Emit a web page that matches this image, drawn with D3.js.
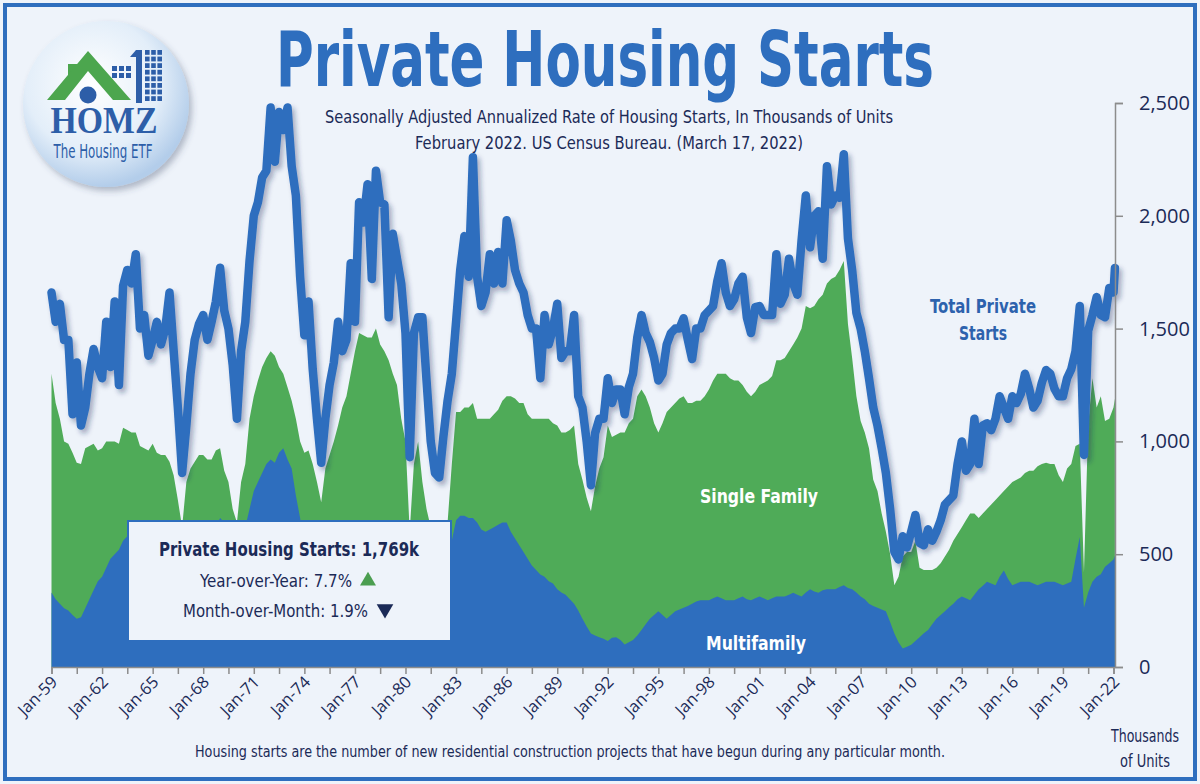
<!DOCTYPE html>
<html>
<head>
<meta charset="utf-8">
<script src="https://cdn.jsdelivr.net/npm/d3@7"></script>
<style>
  body { margin: 0; background: #eef3fa; }
  svg { display: block; }
</style>
</head>
<body>
<div id="chart"></div>
<script>
// Housing starts, thousands of units (SAAR)
// quarterly readings (Jan, Apr, Jul, Oct) from Jan-59, last point is Feb-22
var totalStarts = [
  1660, 1530, 1610, 1450,  1450, 1120, 1350, 1070,  1150, 1300, 1410, 1330,  1280, 1530, 1330, 1620,
  1250, 1690, 1760, 1700,  1830, 1500, 1560, 1380,  1450, 1530, 1430, 1500,  1660, 1400, 1150, 860,
  1070, 1300, 1450, 1520,  1560, 1450, 1530, 1620,  1770, 1580, 1500, 1340,  1100, 1400, 1530, 1800,
  2000, 2060, 2170, 2200,  2480, 2240, 2460, 2380,  2480, 2220, 2090, 1730,  1470, 1620, 1320, 1100,
  905, 1100, 1250, 1350,   1530, 1400, 1450, 1790,  1530, 2060, 1970, 2140,  1720, 2200, 2060, 2050,
  1550, 1920, 1810, 1700,  1480, 930, 1480, 1550,   1550, 1270, 1000, 860,   840, 1020, 1180, 1300,
  1530, 1760, 1910, 1730,  2260, 1730, 1600, 1660,  1830, 1700, 1840, 1700,  1980, 1890, 1760, 1700,
  1660, 1560, 1500, 1500,  1280, 1560, 1430, 1500,  1610, 1370, 1400, 1400,  1560, 1200, 1150, 1000,
  806, 1036, 1100, 1100,   1280, 1170, 1230, 1230,  1120, 1240, 1300, 1460,  1560, 1480, 1440, 1370,
  1270, 1300, 1430, 1480,  1500, 1500, 1546, 1450,  1365, 1500, 1500, 1560,  1580, 1600, 1710, 1790,
  1660, 1600, 1630, 1700,  1730, 1550, 1480, 1595,  1600, 1560, 1560, 1560,  1830, 1610, 1650, 1810,
  1700, 1650, 1890, 2090,  1860, 2000, 2020, 1810,  2220, 2050, 2090, 2080,  2273, 1900, 1760, 1570,
  1500, 1400, 1280, 1150,  1070, 970, 860, 700,     510, 477, 580, 530,      600, 674, 550, 540,
  610, 560, 600, 650,      720, 740, 760, 900,      1000, 870, 900, 1100,   900, 1070, 1080, 1050,
  1100, 1200, 1150, 1100,  1200, 1170, 1210, 1300,  1234, 1150, 1180, 1260,  1316, 1300, 1234, 1200,
  1200, 1280, 1320, 1400,  1600, 940, 1490, 1560,   1640, 1560, 1550, 1680,
  1660, 1769
];

var singleFamily = [
  1300, 1170, 1100, 1000,  990, 950, 905, 900,     970, 980, 990, 960,     970, 1000, 1000, 1000,
  990, 1060, 1050, 1040,   1040, 980, 970, 960,    990, 950, 940, 940,     910, 850, 740, 620,
  820, 880, 910, 940,      940, 920, 920, 960,     970, 870, 820, 700,     640, 820, 900, 1100,
  1200, 1270, 1330, 1370,  1400, 1380, 1330, 1300, 1240, 1180, 1100, 1000, 950, 960, 900, 820,
  730, 880, 940, 1000,     1070, 1150, 1200, 1300, 1400, 1480, 1470, 1460, 1460, 1500, 1430, 1400,
  1360, 1300, 1250, 1100,  1000, 600, 900, 1000,   820, 700, 620, 600,     590, 600, 640, 900,
  1130, 1130, 1150, 1150,  1170, 1100, 1100, 1100, 1100, 1120, 1140, 1180, 1200, 1200, 1190, 1170,
  1170, 1120, 1100, 1100,  1100, 1100, 1100, 1080, 1070, 1040, 1040, 1050, 1070, 900, 830, 750,
  690, 800, 880, 930,      1070, 1020, 1030, 1040, 1040, 1080, 1100, 1200, 1230, 1200, 1150, 1080,
  1040, 1080, 1130, 1150,  1170, 1190, 1200, 1170, 1170, 1180, 1180, 1200, 1230, 1270, 1300, 1300,
  1300, 1280, 1270, 1270,  1250, 1220, 1200, 1220, 1250, 1260, 1270, 1290, 1360, 1360, 1370, 1400,
  1430, 1460, 1500, 1600,  1590, 1600, 1630, 1650, 1700, 1720, 1730, 1760, 1800, 1520, 1370, 1200,
  1090, 1040, 970, 830,    780, 680, 600, 500,     362, 400, 490, 510,     510, 560, 440, 430,
  430, 430, 440, 460,      490, 520, 560, 590,     620, 650, 680, 680,     660, 680, 700, 720,
  740, 760, 780, 800,      820, 830, 840, 860,     870, 870, 890, 900,     905, 900, 900, 850,
  820, 880, 900, 980,      990, 420, 1070, 1280,   1150, 1200, 1090, 1100,
  1150, 1190
];

var multiFamily = [
  330, 300, 280, 260,  250, 230, 214, 220,  260, 300, 340, 380,  400, 440, 480, 500,
  520, 560, 580, 600,  620, 580, 560, 540,  520, 500, 500, 480,  450, 420, 380, 300,
  330, 380, 420, 460,  520, 560, 580, 620,  660, 640, 620, 600,  520, 560, 620, 700,
  780, 820, 860, 900,  920, 905, 950, 970,  920, 880, 760, 660,  520, 480, 400, 300,
  200, 220, 250, 280,  300, 320, 350, 380,  400, 430, 460, 480,  480, 500, 480, 470,
  460, 450, 440, 420,  400, 300, 350, 380,  400, 380, 350, 330,  340, 380, 480, 560,
  650, 670, 670, 660,  660, 640, 610, 600,  610, 620, 630, 640,  640, 600, 570, 540,
  510, 480, 450, 430,  410, 400, 380, 370,  345, 330, 320, 300,  280, 250, 214, 180,
  148, 140, 132, 125,  115, 130, 132, 120,  100, 110, 120, 140,  164, 190, 214, 230,
  247, 230, 214, 230,  247, 255, 263, 270,  280, 290, 296, 296,  296, 305, 312, 305,
  296, 296, 296, 305,  312, 300, 296, 305,  312, 305, 296, 305,  312, 312, 312, 320,
  329, 320, 312, 330,  345, 335, 329, 340,  345, 345, 345, 355,  362, 350, 345, 330,
  312, 300, 280, 270,  263, 255, 247, 200,  148, 110, 82, 90,    99, 115, 132, 150,
  164, 190, 214, 230,  247, 265, 280, 300,  312, 305, 296, 320,  345, 360, 378, 370,
  362, 400, 428, 390,  362, 370, 378, 378,  378, 370, 362, 370,  378, 378, 378, 370,
  362, 370, 378, 480,  576, 263, 330, 378,  400, 411, 444, 460,
  477, 493
];

// months after Jan-59 for each reading
var monthIndex = d3.range(253).map(function(i) { return i * 3; }).concat([757]);

var yTicks = [0, 500, 1000, 1500, 2000, 2500];

var chartTitle = "Private Housing Starts";
var subTitle = [
  "Seasonally Adjusted Annualized Rate of Housing Starts, In Thousands of Units",
  "February 2022. US Census Bureau. (March 17, 2022)"
];
var boxLines = ["Private Housing Starts: 1,769k", "Year-over-Year: 7.7%", "Month-over-Month: 1.9%"];
var footNote = "Housing starts are the number of new residential construction projects that have begun during any particular month.";

// Setup
var width = 1200;
var height = 784;
var blue = "#2e6ebe";
var green = "#4fab58";
var navy = "#1b2a57";
var bg = "#eef3fa";
var cond = "'Liberation Sans Narrow', 'DejaVu Sans Condensed', 'Roboto', sans-serif";
var plain = "'Open Sans', 'Liberation Sans', sans-serif";

var start = new Date(1959, 0, 1);
var dates = monthIndex.map(function(m) { return d3.timeMonth.offset(start, m); });

var rows = dates.map(function(d, i) {
  return { date: d, total: totalStarts[i], sf: singleFamily[i], mf: multiFamily[i] };
});

var svg = d3.select("#chart")
  .append("svg")
  .attr("width", width)
  .attr("height", height);

var defs = svg.append("defs");

var shadow = defs.append("filter").attr("id", "lineShadow")
  .attr("x", "-5%").attr("y", "-5%").attr("width", "110%").attr("height", "115%");
shadow.append("feDropShadow")
  .attr("dx", 3).attr("dy", 4).attr("stdDeviation", 2.5)
  .attr("flood-color", "#1c2f5a").attr("flood-opacity", 0.35);

var logoShadow = defs.append("filter").attr("id", "logoShadow")
  .attr("x", "-20%").attr("y", "-20%").attr("width", "140%").attr("height", "140%");
logoShadow.append("feDropShadow")
  .attr("dx", 3).attr("dy", 4).attr("stdDeviation", 3)
  .attr("flood-color", "#3a4a66").attr("flood-opacity", 0.35);

var grad = defs.append("radialGradient").attr("id", "logoGrad")
  .attr("cx", "42%").attr("cy", "38%").attr("r", "62%");
grad.append("stop").attr("offset", "0%").attr("stop-color", "#ffffff");
grad.append("stop").attr("offset", "65%").attr("stop-color", "#e3eef9");
grad.append("stop").attr("offset", "100%").attr("stop-color", "#b3cdea");

// background and frame
svg.append("rect").attr("width", width).attr("height", height).attr("fill", bg);
svg.append("rect")
  .attr("x", 5).attr("y", 5).attr("width", width - 10).attr("height", height - 10)
  .attr("fill", "none").attr("stroke", blue).attr("stroke-width", 4);

// scales
var x = d3.scaleTime()
  .domain([start, new Date(2022, 0, 1)])
  .range([51.5, 1113.5]);

var y = d3.scaleLinear()
  .domain([0, 2500])
  .range([667, 103]);

// areas
var sfArea = d3.area()
  .x(function(d) { return x(d.date); })
  .y0(y(0))
  .y1(function(d) { return y(d.sf); });

var mfArea = d3.area()
  .x(function(d) { return x(d.date); })
  .y0(y(0))
  .y1(function(d) { return y(d.mf); });

var totalLine = d3.line()
  .x(function(d) { return x(d.date); })
  .y(function(d) { return y(d.total); });

svg.append("path").datum(rows).attr("d", sfArea).attr("fill", green);
svg.append("path").datum(rows).attr("d", mfArea).attr("fill", blue);

svg.append("path").datum(rows)
  .attr("d", totalLine)
  .attr("fill", "none")
  .attr("stroke", blue)
  .attr("stroke-width", 8.5)
  .attr("stroke-linejoin", "round")
  .attr("stroke-linecap", "round")
  .attr("filter", "url(#lineShadow)");

// axes
var xTickDates = d3.range(0, 757, 18).map(function(m) { return d3.timeMonth.offset(start, m); });
var fmt = d3.timeFormat("%b-%y");

var xAxis = svg.append("g")
  .attr("transform", "translate(0," + y(0) + ")")
  .call(d3.axisBottom(x).tickValues(xTickDates).tickSize(7).tickFormat(""));

xAxis.select(".domain").attr("stroke", "#8c8c8c").attr("stroke-width", 1.5);
xAxis.selectAll(".tick line").attr("stroke", "#8c8c8c").attr("stroke-width", 1.5);
xAxis.selectAll(".tick text").remove();

svg.append("g").attr("class", "xText")
  .selectAll("text")
  .data(xTickDates.filter(function(d, i) { return i % 2 === 0; }))
  .enter()
  .append("text")
  .attr("transform", function(d) { return "translate(" + (x(d) + 7) + "," + (y(0) + 16) + ") rotate(-45)"; })
  .attr("text-anchor", "end")
  .attr("font-family", plain)
  .attr("font-size", 16.5)
  .attr("fill", navy)
  .text(function(d) { return fmt(d); });

var yAxis = svg.append("g")
  .attr("transform", "translate(1115,0)")
  .call(d3.axisRight(y).tickValues(yTicks).tickSize(8).tickPadding(16).tickFormat(d3.format(",")));

yAxis.select(".domain").attr("stroke", "#8c8c8c").attr("stroke-width", 1.5);
yAxis.selectAll(".tick line").attr("stroke", "#8c8c8c").attr("stroke-width", 1.5);
yAxis.selectAll(".tick text")
  .attr("font-family", plain)
  .attr("font-size", 20)
  .attr("fill", navy);

// text helper
function label(g, px, py, str, o) {
  var t = g.append("text")
    .attr("x", px).attr("y", py)
    .attr("text-anchor", o.anchor || "middle")
    .attr("font-family", o.family || cond)
    .attr("font-size", o.size)
    .attr("font-weight", o.weight || "normal")
    .attr("fill", o.fill || navy)
    .text(str);
  if (o.len) t.attr("textLength", o.len).attr("lengthAdjust", "spacingAndGlyphs");
  return t;
}

// titles
label(svg, 605, 86, chartTitle, { size: 76, weight: "bold", fill: blue, len: 658 });
label(svg, 609, 123, subTitle[0], { size: 18, len: 568 });
label(svg, 609, 149, subTitle[1], { size: 18, len: 388 });

// series labels
label(svg, 759, 503, "Single Family", { size: 19, weight: "bold", fill: "#ffffff", len: 118 });
label(svg, 756, 650, "Multifamily", { size: 19, weight: "bold", fill: "#ffffff", len: 100 });
label(svg, 983, 313, "Total Private", { size: 19, weight: "bold", fill: "#2d62ad", len: 106 });
label(svg, 983, 340, "Starts", { size: 19, weight: "bold", fill: "#2d62ad", len: 48 });

// info box
var box = svg.append("g");
box.append("rect")
  .attr("x", 128).attr("y", 521).attr("width", 323).attr("height", 120)
  .attr("fill", bg).attr("stroke", blue).attr("stroke-width", 2);
label(box, 289, 556, boxLines[0], { size: 20, weight: "bold", len: 260 });
label(box, 200, 587, boxLines[1], { size: 18, anchor: "start", len: 152 });
label(box, 183, 617, boxLines[2], { size: 18, anchor: "start", len: 185 });
box.append("path")
  .attr("d", d3.symbol(d3.symbolTriangle, 110)())
  .attr("transform", "translate(368,581)")
  .attr("fill", "#4b9e50");
box.append("path")
  .attr("d", d3.symbol(d3.symbolTriangle, 120)())
  .attr("transform", "translate(385,609) rotate(180)")
  .attr("fill", navy);

// footer
label(svg, 570, 757, footNote, { size: 16, len: 750 });
label(svg, 1145, 742, "Thousands", { size: 17, len: 68 });
label(svg, 1145, 767, "of Units", { size: 17, len: 50 });

// logo
var logo = svg.append("g");
logo.append("circle")
  .attr("cx", 106).attr("cy", 104).attr("r", 83)
  .attr("fill", "url(#logoGrad)")
  .attr("filter", "url(#logoShadow)");

var logoGreen = "#4ca64e";
var logoBlue = "#2d5ea8";

logo.append("rect").attr("x", 68).attr("y", 64).attr("width", 9).attr("height", 20).attr("fill", logoGreen);
logo.append("polygon")
  .attr("points", "47,100 88,51 131,100 113,100 88,71 65,100")
  .attr("fill", logoGreen);
logo.append("circle").attr("cx", 88).attr("cy", 95).attr("r", 8.5).attr("fill", logoBlue);

// small block of windows
var smallWin = [];
d3.range(2).forEach(function(r) {
  d3.range(3).forEach(function(c) { smallWin.push([112 + c * 7, 66 + r * 7]); });
});
logo.selectAll(".sw").data(smallWin).enter().append("rect")
  .attr("x", function(d) { return d[0]; }).attr("y", function(d) { return d[1]; })
  .attr("width", 5).attr("height", 5).attr("fill", logoBlue);

logo.append("rect").attr("x", 136).attr("y", 50).attr("width", 6).attr("height", 53).attr("fill", logoBlue);
logo.append("polygon").attr("points", "136,50 130,57 136,57").attr("fill", logoBlue);

var tallWin = [];
d3.range(8).forEach(function(r) {
  d3.range(3).forEach(function(c) { tallWin.push([145 + c * 6.2, 50 + r * 6.6]); });
});
logo.selectAll(".tw").data(tallWin).enter().append("rect")
  .attr("x", function(d) { return d[0]; }).attr("y", function(d) { return d[1]; })
  .attr("width", 4.6).attr("height", 4.8).attr("fill", logoBlue);

label(logo, 104, 133, "HOMZ", {
  size: 37, weight: "bold", fill: logoBlue, len: 107,
  family: "'Liberation Serif', 'DejaVu Serif', serif"
});
label(logo, 103, 158, "The Housing ETF", { size: 19, fill: logoBlue, len: 99 });
</script>
</body>
</html>
